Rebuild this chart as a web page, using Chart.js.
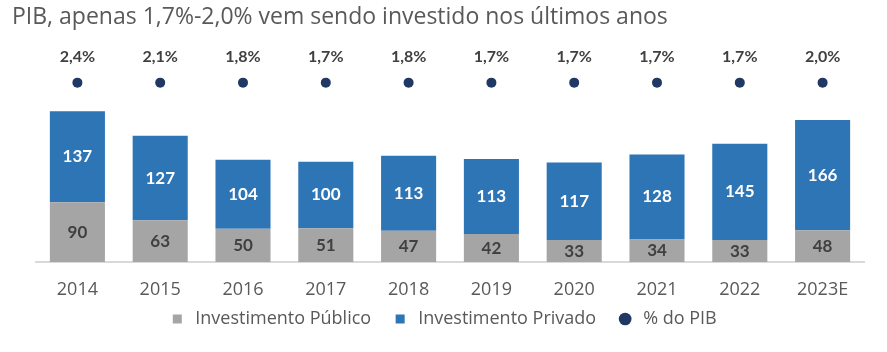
<!DOCTYPE html>
<html>
<head>
<meta charset="utf-8">
<script src="https://cdn.jsdelivr.net/npm/chart.js@4"></script>
<style>
  html, body { margin: 0; padding: 0; background: #fff; }
  #wrap { width: 887px; height: 352px; }
</style>
</head>
<body>
<div id="wrap"><canvas id="chart"></canvas></div>
<script>
const years = ['2014', '2015', '2016', '2017', '2018', '2019', '2020', '2021', '2022', '2023E'];
const publicInvestment = [90, 63, 50, 51, 47, 42, 33, 34, 33, 48];
const privateInvestment = [137, 127, 104, 100, 113, 113, 117, 128, 145, 166];
const pctOfGdp = [2.4, 2.1, 1.8, 1.7, 1.8, 1.7, 1.7, 1.7, 1.7, 2.0];

const GRAY = '#a5a5a5';
const BLUE = '#2e75b6';
const NAVY = '#1f3864';
const TEXT = '#595959';

function fmtPct(v) {
  return v.toFixed(1).replace('.', ',') + '%';
}

// labels inside the bars and above the dots
const valueLabels = {
  id: 'valueLabels',
  afterDatasetsDraw(chart) {
    const ctx = chart.ctx;
    ctx.save();
    ctx.textAlign = 'center';
    ctx.textBaseline = 'middle';
    chart.data.datasets.forEach((ds, i) => {
      const meta = chart.getDatasetMeta(i);
      meta.data.forEach((el, j) => {
        if (ds.type === 'line') {
          ctx.font = 'bold 16px Lato';
          ctx.fillStyle = '#404040';
          ctx.fillText(fmtPct(pctOfGdp[j]), el.x, el.y - 26);
        } else {
          ctx.font = 'bold 17px Lato';
          ctx.fillStyle = ds.labelColor;
          ctx.fillText(String(ds.data[j]), el.x, (el.y + el.base) / 2);
        }
      });
    });
    ctx.restore();
  }
};

// nudge the legend up under the year labels, like the original
const legendShift = {
  id: 'legendShift',
  afterLayout(chart) {
    const lg = chart.legend;
    lg.left -= 7;
    lg.right -= 7;
    lg.top -= 14;
    lg.bottom -= 14;
  }
};

new Chart(document.getElementById('chart'), {
  data: {
    labels: years,
    datasets: [{
      type: 'bar',
      label: 'Investimento Público',
      data: publicInvestment,
      backgroundColor: GRAY,
      labelColor: '#404040',
      pointStyle: 'rect',
      barPercentage: 0.665,
      categoryPercentage: 1
    }, {
      type: 'bar',
      label: 'Investimento Privado',
      data: privateInvestment,
      backgroundColor: BLUE,
      labelColor: '#ffffff',
      pointStyle: 'rect',
      barPercentage: 0.665,
      categoryPercentage: 1
    }, {
      type: 'line',
      label: '% do PIB',
      data: pctOfGdp.map(() => 1),
      yAxisID: 'y2',
      showLine: false,
      pointStyle: 'circle',
      pointRadius: 5,
      backgroundColor: NAVY,
      borderColor: NAVY,
      borderWidth: 0
    }]
  },
  options: {
    responsive: true,
    maintainAspectRatio: false,
    animation: false,
    layout: { padding: { left: 12, bottom: 8 } },
    plugins: {
      title: {
        display: true,
        text: 'PIB, apenas 1,7%-2,0% vem sendo investido nos últimos anos',
        align: 'start',
        color: TEXT,
        font: { family: 'Open Sans', size: 23, weight: 'normal' },
        padding: { top: 4, bottom: 8 }
      },
      legend: {
        position: 'bottom',
        maxHeight: 40,
        labels: {
          usePointStyle: true,
          boxHeight: 9,
          padding: 20,
          color: TEXT,
          font: { family: 'Open Sans', size: 18 }
        }
      },
      tooltip: { enabled: false }
    },
    scales: {
      x: {
        stacked: true,
        grid: { display: false, drawTicks: false },
        border: { display: true, color: '#d9d9d9', width: 2 },
        ticks: { color: TEXT, padding: 17, font: { family: 'Open Sans', size: 18 } },
        afterFit(s) { s.height = 42; }
      },
      y: {
        stacked: true,
        min: 0,
        max: 335,
        ticks: { display: false },
        grid: { display: false },
        border: { display: false },
        afterFit(s) { s.width = 24; }
      },
      y2: {
        position: 'right',
        min: 0,
        max: 1.24,
        ticks: { display: false },
        grid: { display: false },
        border: { display: false },
        afterFit(s) { s.width = 23; }
      }
    }
  },
  plugins: [valueLabels, legendShift]
});
</script>
</body>
</html>
